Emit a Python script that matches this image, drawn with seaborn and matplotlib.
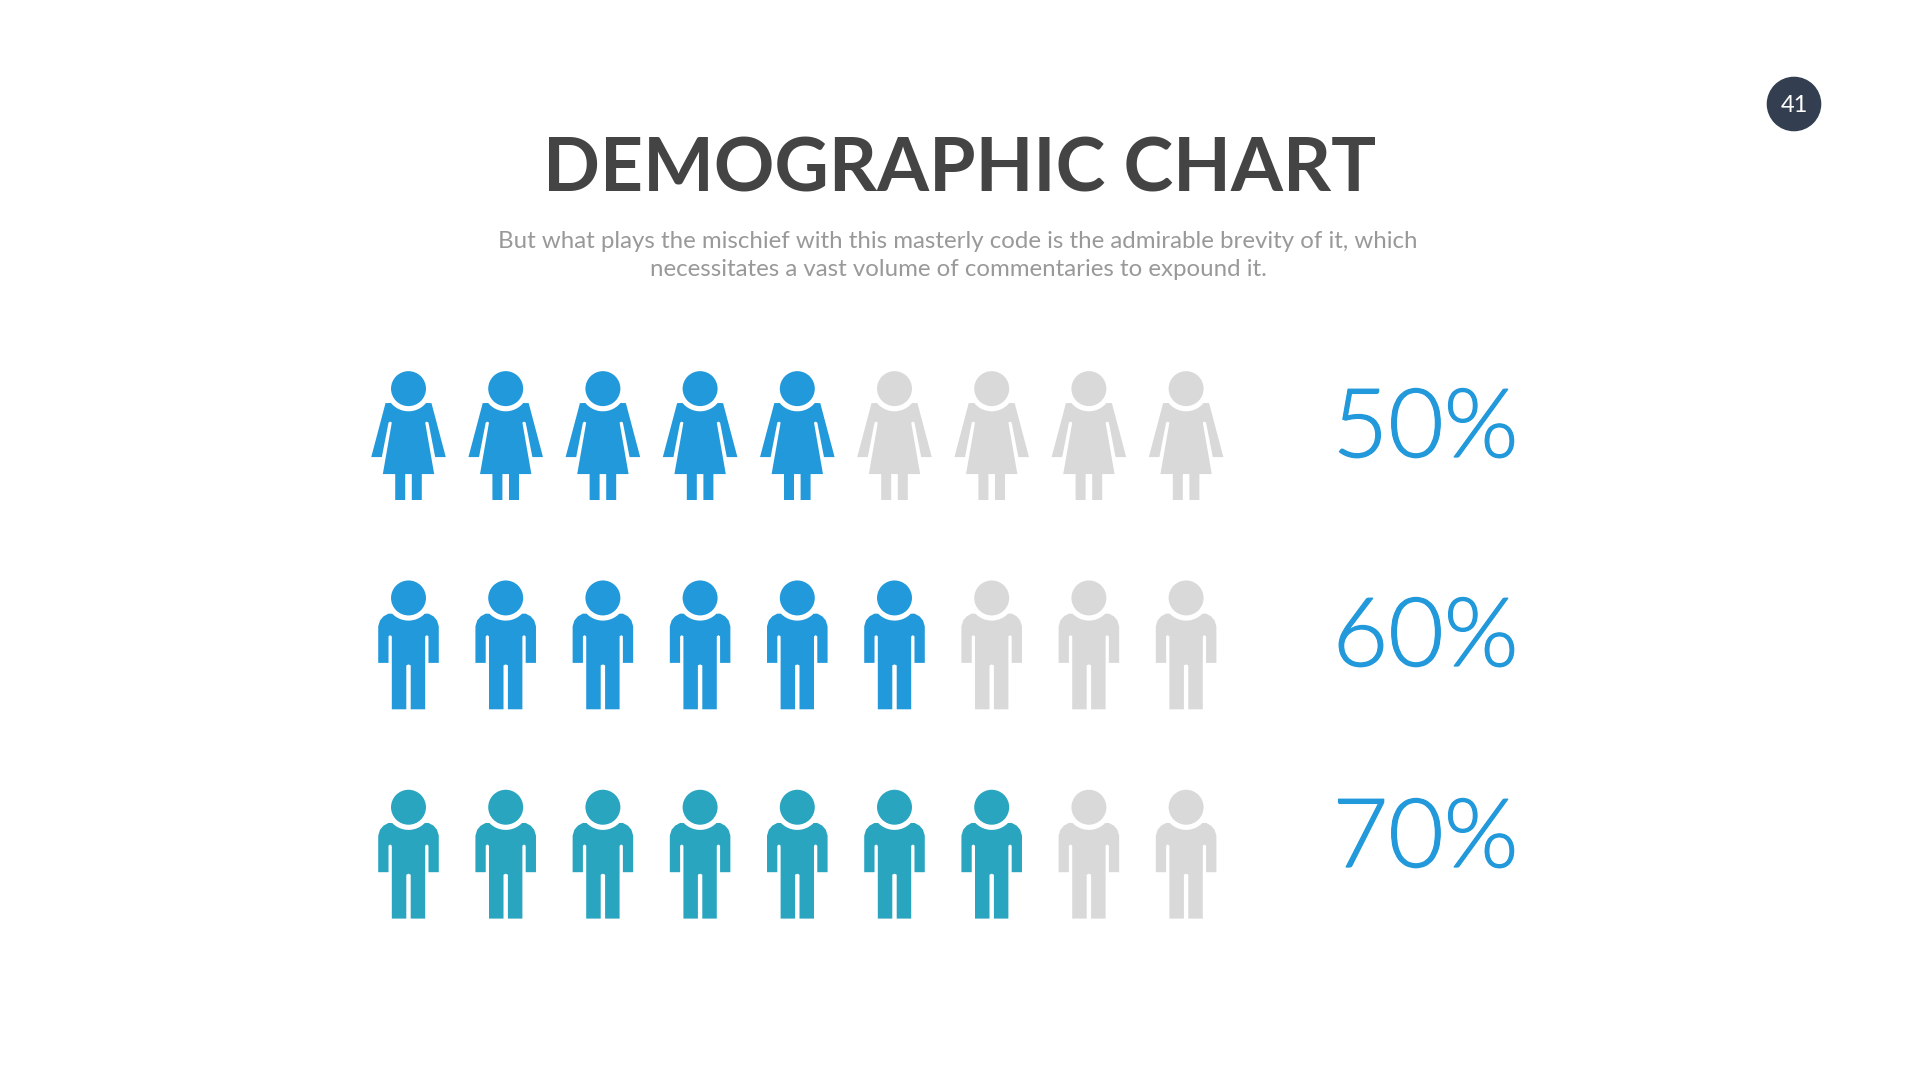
"""Demographic chart slide: rows of person icons with a share label."""

import matplotlib
matplotlib.use("Agg")
import matplotlib.pyplot as plt
import numpy as np
import pandas as pd
import seaborn as sns
from matplotlib import font_manager, patheffects
from matplotlib.patches import Circle
from matplotlib.path import Path
from matplotlib.transforms import Affine2D

row_icons = ["woman", "man", "man"]
row_labels = ["50%", "60%", "70%"]
filled_counts = [5, 6, 7]
icons_per_row = 9
row_colors = ["#2299DB", "#2299DB", "#29A5BF"]
empty_color = "#D9D9D9"

title = "DEMOGRAPHIC CHART"
subtitle = [
    "But what plays the mischief with this masterly code is the admirable brevity of it, which",
    "necessitates a vast volume of commentaries to expound it.",
]
page_number = "41"

sns.set_theme(style="white")
plt.rcParams["font.family"] = ["Lato", "DejaVu Sans"]

W, H = 1920, 1080
X0, DX = 408.5, 97.2
Y0, DY = 435.6, 209.3
HALF_H = 64.45  # half height of an icon, px
label_baselines = [457, 666, 867]


def shape(points):
    verts = list(points) + [points[0]]
    codes = [Path.MOVETO] + [Path.LINETO] * (len(points) - 1) + [Path.CLOSEPOLY]
    return Path(verts, codes)


def head_path():
    circle = Path.unit_circle()
    return Path(circle.vertices * 17.5 + [0, 47], circle.codes)


def neck_arc(side_x, r=22.7):
    # concave notch under the head, from left to right
    start = np.arcsin(side_x / r)
    angles = np.linspace(-start, start, 15)
    return [(r * np.sin(a), 47 - r * np.cos(a)) for a in angles]


def woman_path():
    right = [(23, 32.5), (37.3, -21.5), (26.7, -21.5), (20, 13), (18.3, 14), (16.7, 13),
             (25.7, -38.5), (13.3, -38.5), (13.3, -64.45), (3.3, -64.45), (3.3, -38.5)]
    left = [(-x, y) for x, y in reversed(right)]
    pts = neck_arc(17.6) + right + left
    return Path.make_compound_path(head_path(), shape(pts))


def man_path():
    right = [(20, 31.3), (25, 28.6), (28.5, 24.5), (30.3, 18.6), (30.3, -18), (20, -18), (20, 8.5),
             (18.4, 9.8), (16.7, 8.5), (16.7, -64.45), (2.2, -64.45), (2.2, -20.5), (0, -19.5)]
    left = [(-x, y) for x, y in reversed(right[:-1])]
    pts = neck_arc(16.3) + right + left
    return Path.make_compound_path(head_path(), shape(pts))


def light_font():
    # weight matching jumps to Lato Hairline, so pick the light file by name
    for entry in font_manager.fontManager.ttflist:
        if entry.fname.endswith("Lato-Light.ttf"):
            return font_manager.FontProperties(fname=entry.fname, size=69)
    return font_manager.FontProperties(family="Lato", size=66)


records = []
for row, (icon, filled, color) in enumerate(zip(row_icons, filled_counts, row_colors)):
    for col in range(icons_per_row):
        records.append({
            "col": col,
            "row": row,
            "icon": icon,
            "color": color if col < filled else empty_color,
        })
people = pd.DataFrame(records)

fig = plt.figure(figsize=(19.2, 10.8), dpi=100, facecolor="white")
ax = fig.add_axes([0, 0, 1, 1])

marker_pts = 2 * HALF_H * 72 / fig.dpi
sns.scatterplot(
    data=people, x="col", y="row", hue="color", style="icon",
    palette={c: c for c in people["color"].unique()},
    markers={"woman": woman_path(), "man": man_path()},
    s=marker_pts ** 2, linewidth=0, legend=False, clip_on=False, ax=ax,
)

# axes limits chosen so one column / row step equals the icon spacing in px
ax.set_xlim((0 - X0) / DX, (W - X0) / DX)
ax.set_ylim((H - Y0) / DY, (0 - Y0) / DY)
ax.axis("off")

label_font = light_font()
label_stroke = [patheffects.withStroke(linewidth=0.9, foreground="#2299DB")]
for label, y in zip(row_labels, label_baselines):
    fig.text(1425.5 / W, 1 - y / H, label, ha="center", va="baseline",
             color="#2299DB", fontproperties=label_font, path_effects=label_stroke)

fig.text(959.5 / W, 1 - 170 / H, title, ha="center", va="center",
         fontsize=54, fontweight="bold", color="#444444")
for text, y in zip(subtitle, [241, 269]):
    fig.text(958 / W, 1 - y / H, text, ha="center", va="center", fontsize=17.25, color="#999999")

badge = Circle((1794, 104), 26.6, color="#333F50")
badge.set_transform(Affine2D().scale(1, -1).translate(0, H))
fig.add_artist(badge)
fig.text(1794 / W, 1 - 105 / H, page_number, ha="center", va="center", fontsize=17, color="white")

fig.savefig("out.png", dpi=100)
plt.close(fig)
